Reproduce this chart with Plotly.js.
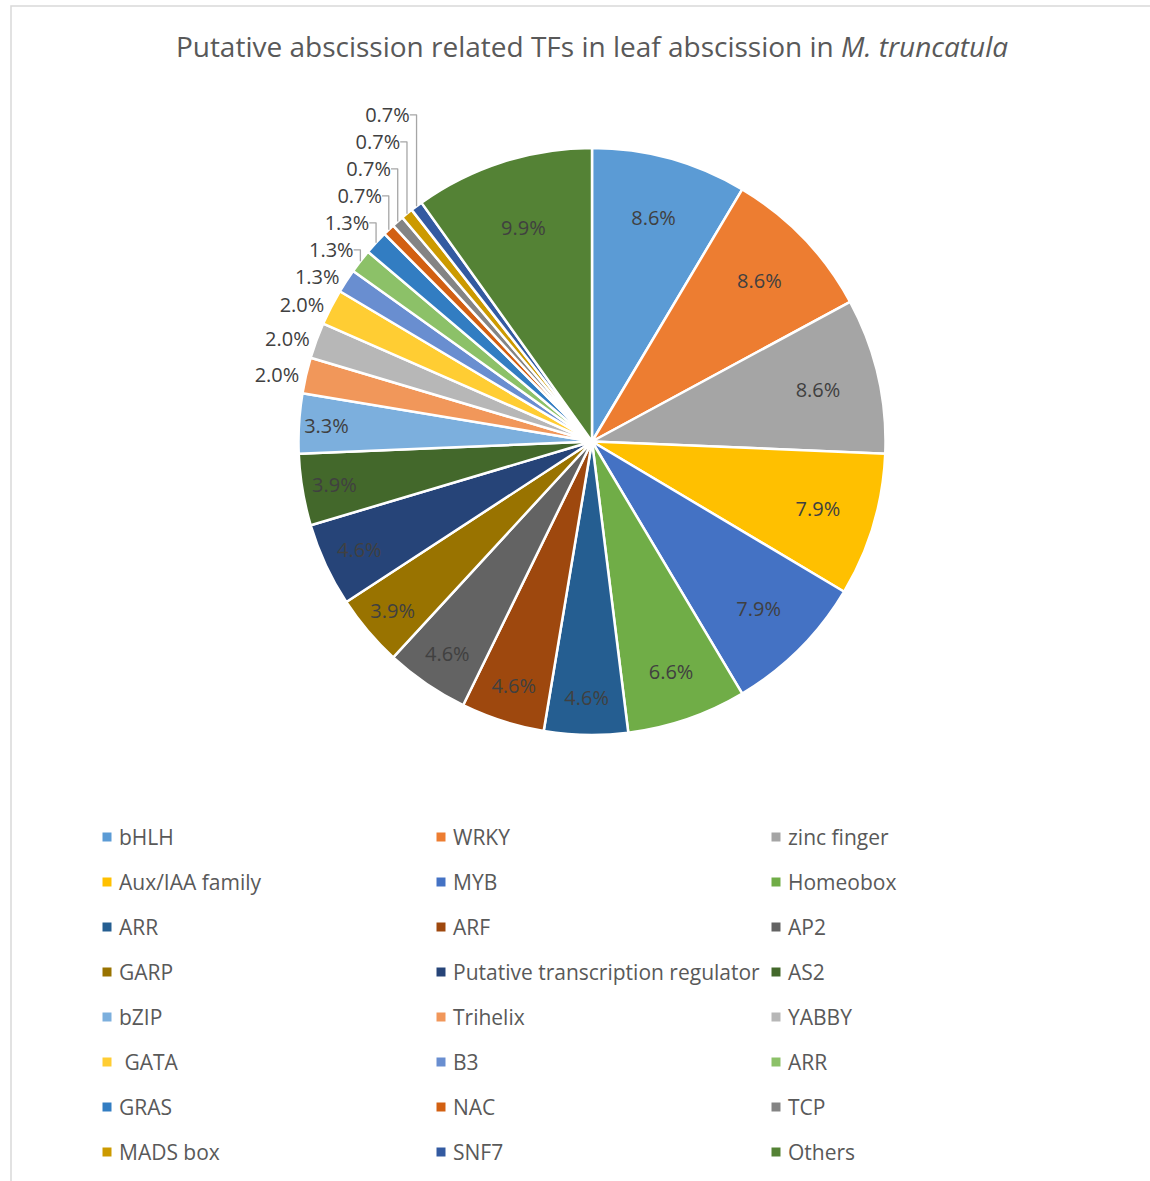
<!DOCTYPE html>
<html>
<head>
<meta charset="utf-8">
<script src="https://cdn.plot.ly/plotly-3.0.1.min.js"></script>
<style>
html,body{margin:0;padding:0;background:#fff;}
#chart{width:1150px;height:1181px;}
#chart path.textline{stroke:#A6A6A6 !important;stroke-width:1.3px !important;}
</style>
</head>
<body>
<div id="chart"></div>
<script>
// Categories (legend order) and counts (percent of 152 TFs)
const categories = ["bHLH", "WRKY", "zinc finger", "Aux/IAA family", "MYB", "Homeobox",
  "ARR", "ARF", "AP2", "GARP", "Putative transcription regulator", "AS2",
  "bZIP", "Trihelix", "YABBY", " GATA", "B3", "ARR",
  "GRAS", "NAC", "TCP", "MADS box", "SNF7", "Others"];
const counts = [13, 13, 13, 12, 12, 10,
  7, 7, 7, 6, 7, 6,
  5, 3, 3, 3, 2, 2,
  2, 1, 1, 1, 1, 15];
const colors = ["#5B9BD5", "#ED7D31", "#A5A5A5", "#FFC000", "#4472C4", "#70AD47",
  "#255E91", "#9E480E", "#636363", "#997300", "#264478", "#43682B",
  "#7CAFDD", "#F1975A", "#B7B7B7", "#FFCD33", "#698ED0", "#8CC168",
  "#327DC2", "#D26012", "#848484", "#CC9A00", "#335AA1", "#548235"];
const labelPos = ["inside", "inside", "inside", "inside", "inside", "inside",
  "inside", "inside", "inside", "inside", "inside", "inside",
  "inside", "outside", "outside", "outside", "outside", "outside",
  "outside", "outside", "outside", "outside", "outside", "inside"];

const W = 1150, H = 1181;
const FONT = "'Open Sans', 'Noto Sans', sans-serif";

// unique slice ids so duplicated names (ARR) are not merged
const ids = categories.map((c, i) => c.trim() + "#" + i);

const trace = {
  type: "pie",
  labels: ids,
  values: counts,
  sort: false,
  direction: "clockwise",
  rotation: 0,
  marker: {colors: colors, line: {color: "#ffffff", width: 2.5}},
  texttemplate: "%{percent:.1%}",
  textposition: labelPos,
  insidetextorientation: "horizontal",
  textfont: {family: FONT, size: 20, color: "#404040"},
  insidetextfont: {family: FONT, size: 20, color: "#404040"},
  outsidetextfont: {family: FONT, size: 20, color: "#404040"},
  hoverinfo: "label+value+percent",
  domain: {x: [298 / W, 886 / W], y: [1 - 735 / H, 1 - 148 / H]},
  showlegend: false
};

// custom legend: 3 columns x 8 rows
const annotations = [];
const shapes = [];
const colX = [107, 441, 776];
const rowY0 = 837, rowDY = 45;
categories.forEach((c, i) => {
  const col = i % 3, row = Math.floor(i / 3);
  const cx = colX[col], cy = rowY0 + row * rowDY;
  shapes.push({type: "rect", xref: "paper", yref: "paper",
    x0: (cx - 4.5) / W, x1: (cx + 4.5) / W, y0: 1 - (cy + 4.5) / H, y1: 1 - (cy - 4.5) / H,
    fillcolor: colors[i], line: {width: 0}});
  annotations.push({xref: "paper", yref: "paper", x: (cx + 10) / W, y: 1 - cy / H,
    xanchor: "left", yanchor: "middle", showarrow: false, text: c.replace(/^ /, "&nbsp;"),
    font: {family: FONT, size: 21, color: "#595959"}});
});
// chart frame
shapes.push({type: "rect", xref: "paper", yref: "paper", x0: 11 / W, x1: 1.05, y0: -0.05, y1: 1 - 6 / H,
  line: {color: "#D9D9D9", width: 1.5}, fillcolor: "rgba(0,0,0,0)", layer: "below"});

const layout = {
  width: W, height: H,
  margin: {l: 0, r: 0, t: 0, b: 0},
  paper_bgcolor: "#ffffff",
  title: {text: "Putative abscission related TFs in leaf abscission in <i>M. truncatula</i>",
    font: {family: FONT, size: 28, color: "#595959"}, x: 592 / W, xanchor: "center",
    y: 1 - 47 / H, yanchor: "middle"},
  annotations: annotations,
  shapes: shapes,
  showlegend: false
};

Plotly.newPlot("chart", [trace], layout, {displayModeBar: false, staticPlot: true});
</script>
</body>
</html>
